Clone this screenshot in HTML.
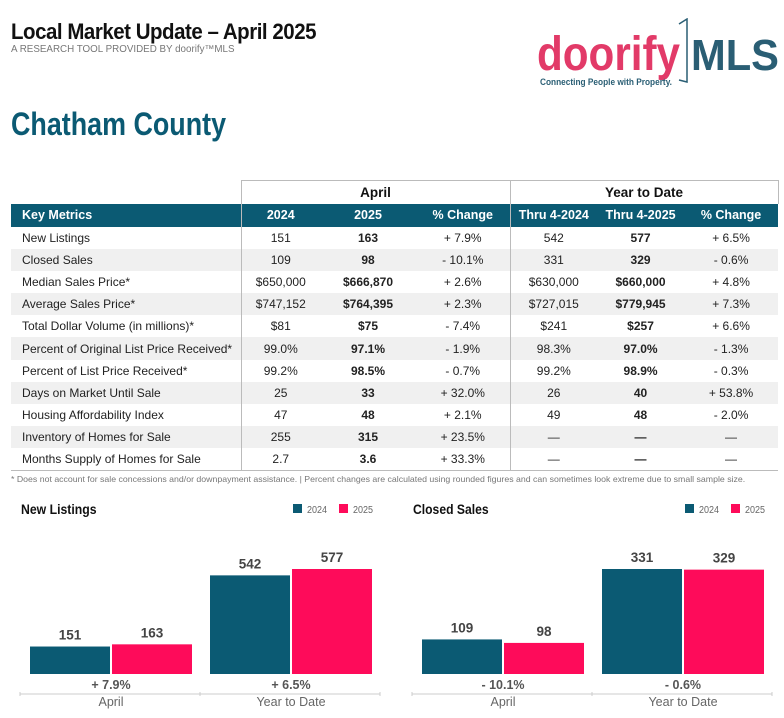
<!DOCTYPE html>
<html><head><meta charset="utf-8">
<style>
*{margin:0;padding:0;box-sizing:border-box}
body{width:784px;height:718px;background:#fff;position:relative;overflow:hidden;font-family:"Liberation Sans",sans-serif;color:#222}
.abs{position:absolute}
#title{left:11px;top:19px;font-size:22px;font-weight:bold;color:#111;letter-spacing:-0.5px;transform:scaleX(0.93);transform-origin:left top;white-space:nowrap}
#sub{left:11px;top:44px;font-size:10px;color:#777;white-space:nowrap;transform:scaleX(0.98);transform-origin:left top}
#county{left:11px;top:106px;font-size:32px;font-weight:bold;color:#0b5a73;transform:scaleX(0.84);transform-origin:left top;white-space:nowrap}
#logo{left:535px;top:18px}
table{position:absolute;left:11px;top:180px;width:767px;border-collapse:collapse;font-size:12px;table-layout:fixed}
td,th{height:22.2px;padding:0;text-align:center;white-space:nowrap;overflow:hidden}
th{font-weight:bold}
tr.grp th{height:23px;font-size:13.5px;color:#111}
tr.hdr th{background:#0b5a73;color:#fff;font-size:12.5px;height:23px}
td:first-child,th:first-child{text-align:left;padding-left:11px}
tr.r:nth-child(even) td{background:#f0f0f0}
.b{font-weight:bold}
.vl{border-left:1px solid #bbb}
tr.grp th.vl{border-top:1px solid #bbb}
tr.grp th.last{border-right:1px solid #bbb}
tbody tr:last-child td{border-bottom:1px solid #bbb}
#foot{left:11px;top:474px;font-size:8.5px;color:#777;white-space:nowrap;transform:scaleX(1.03);transform-origin:left top}
</style></head><body>
<div id="title" class="abs">Local Market Update – April 2025</div>
<div id="sub" class="abs">A RESEARCH TOOL PROVIDED BY doorify™MLS</div>
<svg id="logo" class="abs" width="245" height="75">
<text x="2" y="52" font-family="Liberation Sans" font-size="48" fill="#e23a68" font-weight="bold" textLength="143" lengthAdjust="spacingAndGlyphs">doorify</text>
<path d="M144 6 L152 1 L152 64 L144 62" fill="none" stroke="#2a5e74" stroke-width="1.5"/>
<text x="156" y="52" font-family="Liberation Sans" font-size="44" fill="#2a5e74" font-weight="bold" textLength="88" lengthAdjust="spacingAndGlyphs">MLS</text>
<text x="5" y="67" font-family="Liberation Sans" font-size="9" fill="#2a5e74" font-weight="bold" textLength="132" lengthAdjust="spacingAndGlyphs">Connecting People with Property.</text>
</svg>
<div id="county" class="abs">Chatham County</div>

<table>
<colgroup><col style="width:230px"><col style="width:79px"><col style="width:96px"><col style="width:94px"><col style="width:87px"><col style="width:87px"><col style="width:94px"></colgroup>
<thead>
<tr class="grp"><th></th><th class="vl" colspan="3">April</th><th class="vl last" colspan="3">Year to Date</th></tr>
<tr class="hdr"><th>Key Metrics</th><th class="vl">2024</th><th>2025</th><th>% Change</th><th class="vl">Thru 4-2024</th><th>Thru 4-2025</th><th>% Change</th></tr>
</thead>
<tbody>
<tr class="r"><td>New Listings</td><td class="vl">151</td><td class="b">163</td><td>+ 7.9%</td><td class="vl">542</td><td class="b">577</td><td>+ 6.5%</td></tr>
<tr class="r"><td>Closed Sales</td><td class="vl">109</td><td class="b">98</td><td>- 10.1%</td><td class="vl">331</td><td class="b">329</td><td>- 0.6%</td></tr>
<tr class="r"><td>Median Sales Price*</td><td class="vl">$650,000</td><td class="b">$666,870</td><td>+ 2.6%</td><td class="vl">$630,000</td><td class="b">$660,000</td><td>+ 4.8%</td></tr>
<tr class="r"><td>Average Sales Price*</td><td class="vl">$747,152</td><td class="b">$764,395</td><td>+ 2.3%</td><td class="vl">$727,015</td><td class="b">$779,945</td><td>+ 7.3%</td></tr>
<tr class="r"><td>Total Dollar Volume (in millions)*</td><td class="vl">$81</td><td class="b">$75</td><td>- 7.4%</td><td class="vl">$241</td><td class="b">$257</td><td>+ 6.6%</td></tr>
<tr class="r"><td>Percent of Original List Price Received*</td><td class="vl">99.0%</td><td class="b">97.1%</td><td>- 1.9%</td><td class="vl">98.3%</td><td class="b">97.0%</td><td>- 1.3%</td></tr>
<tr class="r"><td>Percent of List Price Received*</td><td class="vl">99.2%</td><td class="b">98.5%</td><td>- 0.7%</td><td class="vl">99.2%</td><td class="b">98.9%</td><td>- 0.3%</td></tr>
<tr class="r"><td>Days on Market Until Sale</td><td class="vl">25</td><td class="b">33</td><td>+ 32.0%</td><td class="vl">26</td><td class="b">40</td><td>+ 53.8%</td></tr>
<tr class="r"><td>Housing Affordability Index</td><td class="vl">47</td><td class="b">48</td><td>+ 2.1%</td><td class="vl">49</td><td class="b">48</td><td>- 2.0%</td></tr>
<tr class="r"><td>Inventory of Homes for Sale</td><td class="vl">255</td><td class="b">315</td><td>+ 23.5%</td><td class="vl">—</td><td class="b">—</td><td>—</td></tr>
<tr class="r"><td>Months Supply of Homes for Sale</td><td class="vl">2.7</td><td class="b">3.6</td><td>+ 33.3%</td><td class="vl">—</td><td class="b">—</td><td>—</td></tr>
</tbody></table>
<div id="foot" class="abs">* Does not account for sale concessions and/or downpayment assistance. | Percent changes are calculated using rounded figures and can sometimes look extreme due to small sample size.</div>

<svg id="charts" class="abs" style="left:0;top:490px" width="784" height="228"></svg>

<script>
const categories = ["April", "Year to Date"];
const nlPrior = [151, 542];
const nlCurrent = [163, 577];
const nlChange = ["+ 7.9%", "+ 6.5%"];
const csPrior = [109, 331];
const csCurrent = [98, 329];
const csChange = ["- 10.1%", "- 0.6%"];
const seriesNames = ["2024", "2025"];

const NS = "http://www.w3.org/2000/svg";
const svg = document.getElementById("charts");
function mk(tag, attrs, parent) {
  const e = document.createElementNS(NS, tag);
  for (const k in attrs) e.setAttribute(k, attrs[k]);
  (parent || svg).appendChild(e);
  return e;
}
function drawChart(x0, title, prior, current, changes, key) {
  const g = mk("g", {});
  
  
  const t = mk("text", {x: x0 + 1, y: 24, "font-size": 14, "font-weight": "bold", fill: "#111", textLength: title.length * 6.3, lengthAdjust: "spacingAndGlyphs"}, g);
  t.textContent = title;
  
  
  const colors = ["#0b5a73", "#fe0b5a"];
  for (let i = 0; i < 2; i++) {
    const lx = x0 + 273 + i * 46;
    const sw = mk("rect", {x: lx, y: 14, width: 9, height: 9, fill: colors[i]}, g);
    
    
    const lt = mk("text", {x: lx + 14, y: 23, "font-size": 10, fill: "#666", textLength: 20, lengthAdjust: "spacingAndGlyphs"}, g);
    lt.textContent = seriesNames[i];
    
    
  }
  const base = 184, maxH = 105;
  const maxV = Math.max(...prior, ...current);
  const y = v => base - v / maxV * maxH;
  const groupW = 180, barW = 80;
  for (let c = 0; c < categories.length; c++) {
    const gx = x0 + 10 + c * groupW;
    const vals = [prior[c], current[c]];
    for (let s = 0; s < 2; s++) {
      const bx = gx + s * (barW + 2);
      const r = mk("rect", {x: bx, y: y(vals[s]), width: barW, height: base - y(vals[s]), fill: colors[s]}, g);
      
      
      const vt = mk("text", {x: bx + barW / 2, y: y(vals[s]) - 7, "font-size": 13.5, "font-weight": "bold", fill: "#444", "text-anchor": "middle"}, g);
      vt.textContent = vals[s];
      
      
    }
    const ct = mk("text", {x: gx + barW + 1, y: base + 15, "font-size": 12.5, "font-weight": "bold", fill: "#555", "text-anchor": "middle"}, g);
    ct.textContent = changes[c];
    
    
    const cl = mk("text", {x: gx + barW + 1, y: base + 32, "font-size": 12.5, fill: "#666", "text-anchor": "middle"}, g);
    cl.textContent = categories[c];
    
    
  }
  const ax = mk("path", {d: `M${x0} ${base + 18} v4 M${x0} ${base + 20} H${x0 + 360} M${x0 + 180} ${base + 18} v4 M${x0 + 360} ${base + 18} v4`, stroke: "#ccc", fill: "none"}, g);
  
  
}
drawChart(20, "New Listings", nlPrior, nlCurrent, nlChange, "new-listings");
drawChart(412, "Closed Sales", csPrior, csCurrent, csChange, "closed-sales");
</script>
</body></html>
